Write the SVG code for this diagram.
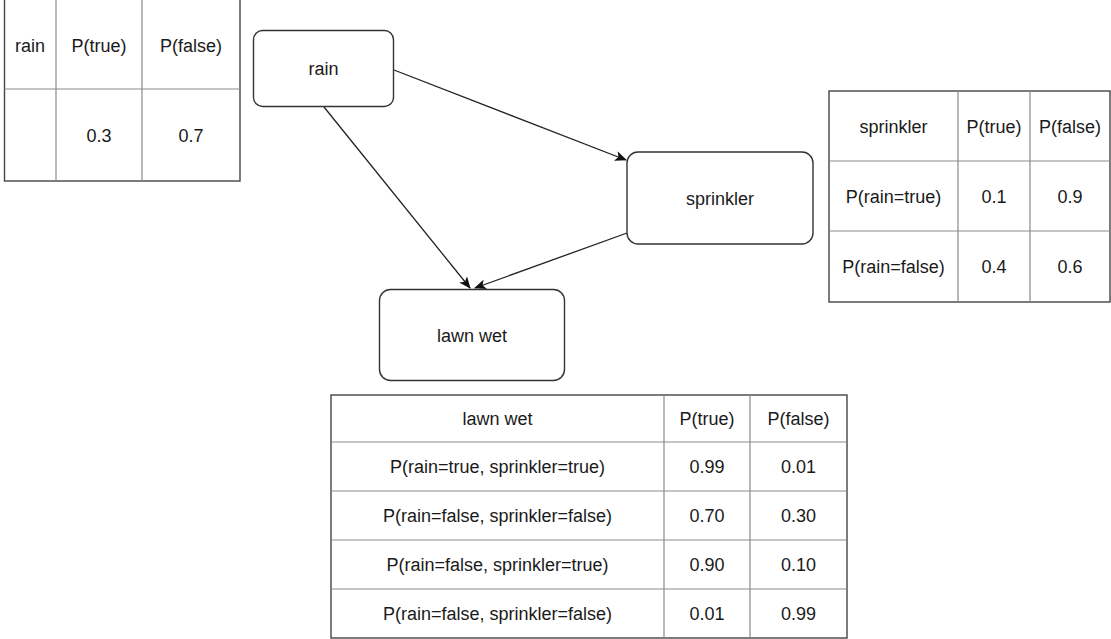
<svg xmlns="http://www.w3.org/2000/svg" width="1111" height="639" viewBox="0 0 1111 639">
<style>
text{font-family:"Liberation Sans",Arial,Helvetica,sans-serif;font-size:18px;fill:#1a1a1a;text-anchor:middle}
.node{fill:#fff;stroke:#333;stroke-width:1.4}
.tbl{fill:#fff;stroke:#444;stroke-width:1.4}
.grid{stroke:#8a8a8a;stroke-width:1.2;fill:none}
.edge{stroke:#222;stroke-width:1.3;fill:none}
</style>
<defs>
<marker id="arr" viewBox="0 0 12 10" refX="11" refY="5" markerWidth="12" markerHeight="10" markerUnits="userSpaceOnUse" orient="auto">
<path d="M0,0 L12,5 L0,10 L3,5 z" fill="#111"/>
</marker>
</defs>
<rect width="1111" height="639" fill="#fff"/>

<g id="connectors">
<line class="edge" x1="394" y1="70" x2="626" y2="160" marker-end="url(#arr)"/>
<line class="edge" x1="324" y1="107" x2="470" y2="288" marker-end="url(#arr)"/>
<line class="edge" x1="627" y1="233" x2="475" y2="288" marker-end="url(#arr)"/>
</g>

<g id="node-rain">
<rect class="node" x="253.5" y="30.5" width="140" height="76" rx="9"/>
<text x="323.5" y="75">rain</text>
</g>

<g id="node-sprinkler">
<rect class="node" x="627" y="152" width="186" height="92" rx="11"/>
<text x="720" y="204.5">sprinkler</text>
</g>

<g id="node-lawnwet">
<rect class="node" x="379.5" y="289.5" width="185" height="91" rx="11"/>
<text x="472" y="341.5">lawn wet</text>
</g>

<g id="table-rain">
<rect class="tbl" x="4.5" y="-2" width="235.5" height="183"/>
<path class="grid" d="M56,-2V181M142,-2V181M4.5,89H240"/>
<text x="30" y="51.5">rain</text>
<text x="99" y="51.5">P(true)</text>
<text x="191" y="51.5">P(false)</text>
<text x="99" y="141.5">0.3</text>
<text x="191" y="141.5">0.7</text>
</g>

<g id="table-sprinkler">
<rect class="tbl" x="829" y="91" width="281" height="211"/>
<path class="grid" d="M958,91V302M1030,91V302M829,161H1110M829,231H1110"/>
<text x="893.5" y="132.5">sprinkler</text>
<text x="994" y="132.5">P(true)</text>
<text x="1070" y="132.5">P(false)</text>
<text x="893.5" y="202.5">P(rain=true)</text>
<text x="994" y="202.5">0.1</text>
<text x="1070" y="202.5">0.9</text>
<text x="893.5" y="273">P(rain=false)</text>
<text x="994" y="273">0.4</text>
<text x="1070" y="273">0.6</text>
</g>

<g id="table-lawnwet">
<rect class="tbl" x="331" y="395" width="516" height="243"/>
<path class="grid" d="M664,395V638M750,395V638M331,442H847M331,491H847M331,540H847M331,589H847"/>
<text x="497.5" y="425">lawn wet</text>
<text x="707" y="425">P(true)</text>
<text x="798.5" y="425">P(false)</text>
<text x="497.5" y="473">P(rain=true, sprinkler=true)</text>
<text x="707" y="473">0.99</text>
<text x="798.5" y="473">0.01</text>
<text x="497.5" y="522">P(rain=false, sprinkler=false)</text>
<text x="707" y="522">0.70</text>
<text x="798.5" y="522">0.30</text>
<text x="497.5" y="571">P(rain=false, sprinkler=true)</text>
<text x="707" y="571">0.90</text>
<text x="798.5" y="571">0.10</text>
<text x="497.5" y="620">P(rain=false, sprinkler=false)</text>
<text x="707" y="620">0.01</text>
<text x="798.5" y="620">0.99</text>
</g>
</svg>
